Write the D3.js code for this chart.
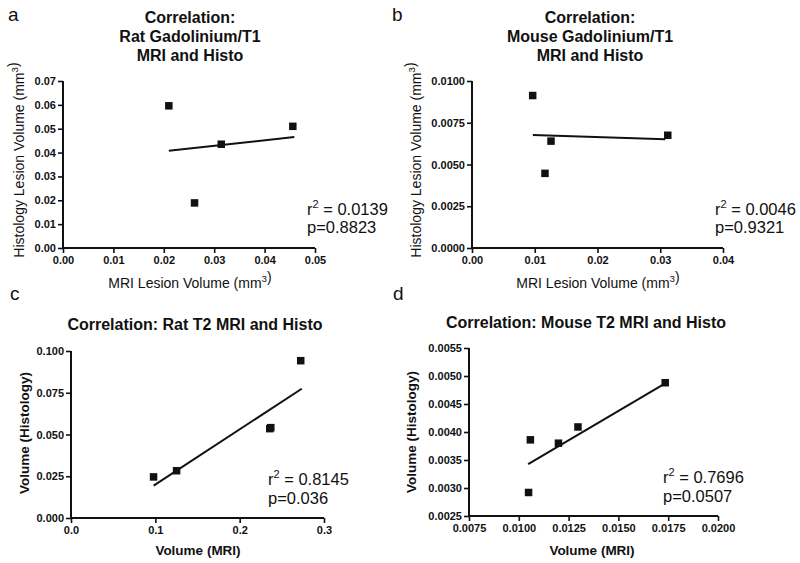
<!DOCTYPE html>
<html><head><meta charset="utf-8">
<script src="https://cdn.jsdelivr.net/npm/d3@7"></script>
<style>
body{margin:0;background:#fff}
svg{display:block}
text{font-family:"Liberation Sans",Arial,Helvetica,sans-serif;fill:#111}
</style>
</head><body>
<svg id="chart" width="800" height="563"></svg>
<script>
// ---------- DATA ----------
// Panel a: Rat Gadolinium/T1
const ratGdMRI   = [0.0210, 0.0261, 0.0314, 0.0456];
const ratGdHisto = [0.0596, 0.0189, 0.0435, 0.0510];
const ratGdFitX  = [0.0210, 0.0459];
const ratGdFitY  = [0.0408, 0.0465];
const ratGdXTicks = [0, 0.01, 0.02, 0.03, 0.04, 0.05];
const ratGdYTicks = [0, 0.01, 0.02, 0.03, 0.04, 0.05, 0.06, 0.07];

// Panel b: Mouse Gadolinium/T1
const mouseGdMRI   = [0.00967, 0.01163, 0.01259, 0.0312];
const mouseGdHisto = [0.00913, 0.00447, 0.00640, 0.00675];
const mouseGdFitX  = [0.0097, 0.0308];
const mouseGdFitY  = [0.00677, 0.00651];
const mouseGdXTicks = [0, 0.01, 0.02, 0.03, 0.04];
const mouseGdYTicks = [0, 0.0025, 0.005, 0.0075, 0.01];

// Panel c: Rat T2
const ratT2MRI   = [0.0979, 0.1252, 0.2357, 0.2369, 0.2724];
const ratT2Histo = [0.0246, 0.0283, 0.0535, 0.0541, 0.0942];
const ratT2FitX  = [0.0980, 0.2736];
const ratT2FitY  = [0.0194, 0.0774];
const ratT2XTicks = [0, 0.1, 0.2, 0.3];
const ratT2YTicks = [0, 0.025, 0.05, 0.075, 0.1];

// Panel d: Mouse T2
const mouseT2MRI   = [0.01049, 0.01058, 0.01199, 0.01297, 0.01735];
const mouseT2Histo = [0.00292, 0.00386, 0.00380, 0.00409, 0.00488];
const mouseT2FitX  = [0.01047, 0.01737];
const mouseT2FitY  = [0.003425, 0.004874];
const mouseT2XTicks = [0.0075, 0.01, 0.0125, 0.015, 0.0175, 0.02];
const mouseT2YTicks = [0.0025, 0.003, 0.0035, 0.004, 0.0045, 0.005, 0.0055];

const panelLetters = ["a", "b", "c", "d"];
const panelTitles = [
  ["Correlation:", "Rat Gadolinium/T1", "MRI and Histo"],
  ["Correlation:", "Mouse Gadolinium/T1", "MRI and Histo"],
  ["Correlation: Rat T2 MRI and Histo"],
  ["Correlation: Mouse T2 MRI and Histo"]
];
const xTitles = ["MRI Lesion Volume (mm|3|)", "MRI Lesion Volume (mm|3|)", "Volume (MRI)", "Volume (MRI)"];
const yTitles = ["Histology Lesion Volume (mm|3|)", "Histology Lesion Volume (mm|3|)", "Volume (Histology)", "Volume (Histology)"];
const r2Labels = ["0.0139", "0.0046", "0.8145", "0.7696"];
const pLabels  = ["0.8823", "0.9321", "0.036", "0.0507"];
const xTickFmt = [".2f", ".2f", ".1f", ".4f"];
const yTickFmt = [".2f", ".4f", ".3f", ".4f"];

// ---------- LAYOUT ----------
const layout = [
  {x0:63, x1:315, yT:81, yB:248, letter:[8,21], titleX:190, titleY:[23,42,61], ytX:24, ytY:160, xtX:190, xtY:288, statX:307, statY:[215,233]},
  {x0:472, x1:723, yT:81, yB:248, letter:[392,21], titleX:590, titleY:[23,42,61], ytX:421, ytY:160, xtX:598, xtY:288, statX:715, statY:[215,233]},
  {x0:71, x1:324, yT:351, yB:518, letter:[10,300], titleX:195, titleY:[330], ytX:29, ytY:433, xtX:198, xtY:555, statX:268, statY:[485,504]},
  {x0:469, x1:718, yT:348, yB:516, letter:[393,300], titleX:586, titleY:[328], ytX:416, ytY:432, xtX:592, xtY:555, statX:663, statY:[483,502]}
];

const panelsData = [
  {mx: ratGdMRI, hy: ratGdHisto, fx: ratGdFitX, fy: ratGdFitY, xt: ratGdXTicks, yt: ratGdYTicks},
  {mx: mouseGdMRI, hy: mouseGdHisto, fx: mouseGdFitX, fy: mouseGdFitY, xt: mouseGdXTicks, yt: mouseGdYTicks},
  {mx: ratT2MRI, hy: ratT2Histo, fx: ratT2FitX, fy: ratT2FitY, xt: ratT2XTicks, yt: ratT2YTicks},
  {mx: mouseT2MRI, hy: mouseT2Histo, fx: mouseT2FitX, fy: mouseT2FitY, xt: mouseT2XTicks, yt: mouseT2YTicks}
];

const svg = d3.select("#chart");

function addSupText(sel, str, supShift) {
  const parts = str.split("|");
  parts.forEach((p, i) => {
    if (!p) return;
    if (i % 2 === 1) {
      sel.append("tspan").attr("dy", -supShift).attr("font-size", "0.7em").text(p);
      sel.append("tspan").attr("dy", supShift).text("");
    } else {
      sel.append("tspan").text(p);
    }
  });
}

panelsData.forEach((pd, i) => {
  const L = layout[i];
  const isTop = i < 2;
  const x = d3.scaleLinear().domain(d3.extent(pd.xt)).range([L.x0, L.x1]);
  const y = d3.scaleLinear().domain(d3.extent(pd.yt)).range([L.yB, L.yT]);
  const g = svg.append("g");

  // panel letter
  g.append("text").attr("x", L.letter[0]).attr("y", L.letter[1])
    .attr("font-size", 19).attr("fill", "#222").text(panelLetters[i]);

  // title
  panelTitles[i].forEach((t, k) => {
    g.append("text").attr("x", L.titleX).attr("y", L.titleY[k])
      .attr("text-anchor", "middle").attr("font-size", 16).attr("font-weight", "bold").text(t);
  });

  // axes
  const xAxis = d3.axisBottom(x).tickValues(pd.xt).tickFormat(d3.format(xTickFmt[i])).tickSize(5).tickSizeOuter(0).tickPadding(3);
  const yAxis = d3.axisLeft(y).tickValues(pd.yt).tickFormat(d3.format(yTickFmt[i])).tickSize(5).tickSizeOuter(0).tickPadding(2);
  const gx = g.append("g").attr("transform", `translate(0,${L.yB})`).call(xAxis);
  const gy = g.append("g").attr("transform", `translate(${L.x0},0)`).call(yAxis);
  [gx, gy].forEach(a => {
    a.select(".domain").attr("stroke", "#111").attr("stroke-width", 2);
    a.selectAll(".tick line").attr("stroke", "#111").attr("stroke-width", 1.6);
    a.selectAll(".tick text").attr("font-family", "Liberation Sans, Arial, sans-serif")
      .attr("font-size", 11).attr("font-weight", "bold").attr("fill", "#111");
  });
  // extend domain to meet corner
  gx.select(".domain").attr("d", `M${L.x0 - 1},0H${L.x1}`);
  gy.select(".domain").attr("d", `M0,${L.yT}V${L.yB + 1}`);

  // axis titles
  const titleWeight = isTop ? "normal" : "bold";
  const titleSize = isTop ? 14 : 13.5;
  const xt = g.append("text").attr("x", L.xtX).attr("y", L.xtY).attr("text-anchor", "middle")
    .attr("font-size", titleSize).attr("font-weight", titleWeight);
  addSupText(xt, xTitles[i], 6);
  const yt = g.append("text").attr("transform", `translate(${L.ytX},${L.ytY}) rotate(-90)`)
    .attr("text-anchor", "middle").attr("font-size", titleSize).attr("font-weight", titleWeight);
  addSupText(yt, yTitles[i], 6);

  // regression line
  g.append("line")
    .attr("x1", x(pd.fx[0])).attr("y1", y(pd.fy[0]))
    .attr("x2", x(pd.fx[1])).attr("y2", y(pd.fy[1]))
    .attr("stroke", "#111").attr("stroke-width", 2);

  // points
  const s = 7.5;
  g.selectAll("rect.pt").data(pd.mx.map((v, k) => [v, pd.hy[k]])).enter()
    .append("rect").attr("class", "pt")
    .attr("x", d => x(d[0]) - s / 2).attr("y", d => y(d[1]) - s / 2)
    .attr("width", s).attr("height", s).attr("fill", "#111");

  // stats
  const r = g.append("text").attr("x", L.statX).attr("y", L.statY[0]).attr("font-size", 16.5);
  r.append("tspan").text("r");
  r.append("tspan").attr("dy", -7).attr("font-size", 11).text("2");
  r.append("tspan").attr("dy", 7).text(" = " + r2Labels[i]);
  g.append("text").attr("x", L.statX).attr("y", L.statY[1]).attr("font-size", 16.5).text("p=" + pLabels[i]);
});
</script>
</body></html>
